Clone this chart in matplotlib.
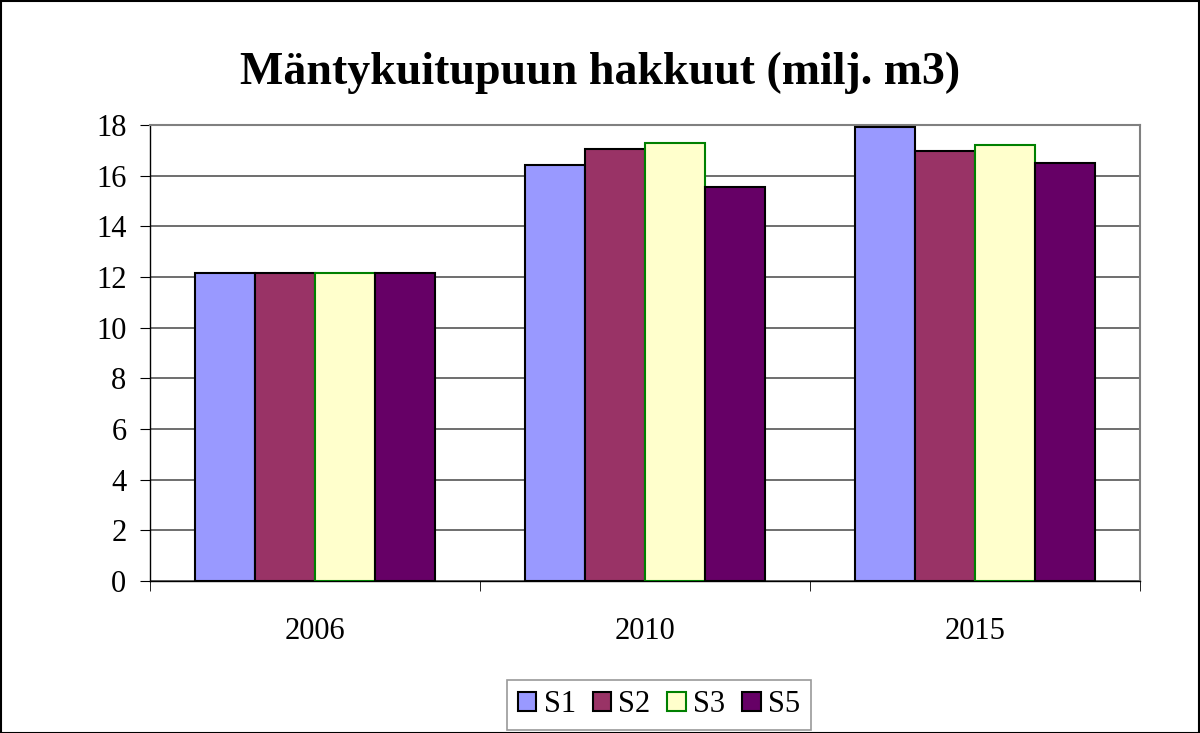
import matplotlib
matplotlib.use("Agg")
import matplotlib.pyplot as plt
from matplotlib.patches import Rectangle
import numpy as np

categories = ["2006", "2010", "2015"]
series = ["S1", "S2", "S3", "S5"]
S1 = [12.15, 16.43, 17.93]
S2 = [12.15, 17.05, 16.97]
S3 = [12.15, 17.30, 17.22]
S5 = [12.15, 15.55, 16.51]
values = [S1, S2, S3, S5]
yticks = [0, 2, 4, 6, 8, 10, 12, 14, 16, 18]

faces = ["#9999FF", "#993366", "#FFFFCC", "#660066"]
edges = ["black", "black", "#008000", "black"]

plt.rcParams['font.family'] = ['Liberation Serif', 'DejaVu Serif']

fig = plt.figure(figsize=(12, 7.33), dpi=100)
W, H = 1200, 733
ax = fig.add_axes([150 / W, 1 - 581 / H, (1140 - 150) / W, (581 - 125) / H])

x = np.arange(len(categories)) + 0.5
bw = 60 / 330
for i, (vals, fc, ec) in enumerate(zip(values, faces, edges)):
    ax.bar(x + (i - 1.5) * bw, vals, width=bw, color=fc, edgecolor=ec,
           linewidth=1.5, label=series[i], zorder=3)

ax.set_xlim(0, 3)
ax.set_ylim(0, 18)
ax.set_yticks(yticks)
ax.set_yticklabels([str(t) for t in yticks], fontsize=22)
ax.set_xticks(x)
ax.set_xticklabels(categories, fontsize=22)
ax.tick_params(axis='x', length=0, pad=26)
ax.set_xticks([0, 1, 2, 3], minor=True)
ax.tick_params(axis='x', which='minor', length=7, direction='out', color='black')
ax.tick_params(axis='y', length=7, direction='out', color='black', pad=10)
ax.yaxis.grid(True, color='#555555', linewidth=1.2, zorder=0)
ax.set_axisbelow(True)
for s in ['top', 'right']:
    ax.spines[s].set_color('#808080')
    ax.spines[s].set_linewidth(1.5)
ax.spines['left'].set_color('black')
ax.spines['bottom'].set_color('black')
ax.spines['left'].set_linewidth(1.0)
ax.spines['bottom'].set_linewidth(1.0)

fig.text(0.5, 1 - 73 / H, "Mäntykuitupuun hakkuut (milj. m3)", ha='center', va='center',
         fontsize=33, fontweight='bold')

leg = fig.legend(loc='center', bbox_to_anchor=(659 / W, 1 - 705 / H), ncol=4,
                 fontsize=22, frameon=True, fancybox=False, edgecolor='#808080',
                 handlelength=0.6, handleheight=0.6, handletextpad=0.25,
                 columnspacing=0.55, borderpad=0.35)
leg.get_frame().set_linewidth(1.2)

fig.patches.append(Rectangle((0.5 / W, 0.5 / H), 1 - 1.5 / W, 1 - 1.5 / H, transform=fig.transFigure,
                             fill=False, edgecolor='black', linewidth=1.5))

fig.savefig("out.png", dpi=100)
